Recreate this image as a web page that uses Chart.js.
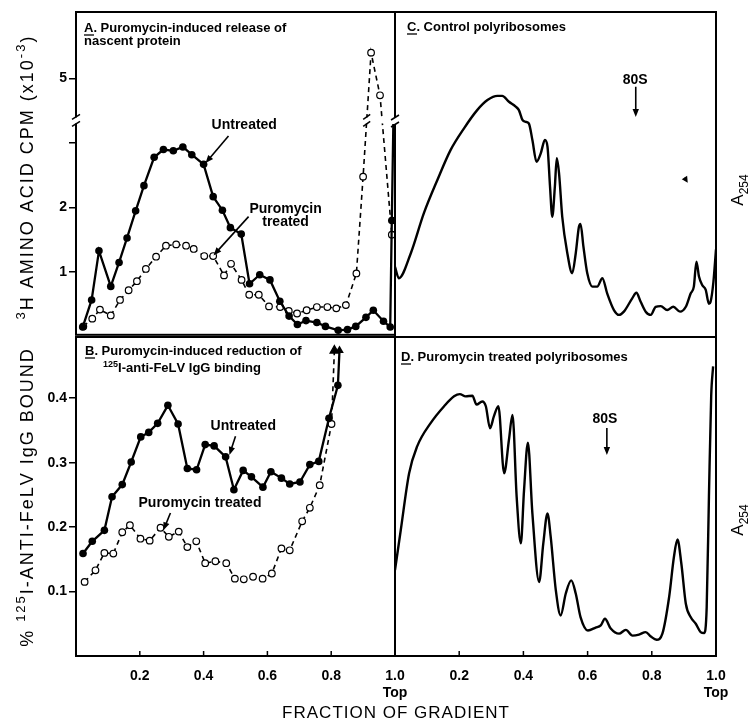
<!DOCTYPE html>
<html>
<head>
<meta charset="utf-8">
<script src="https://cdn.jsdelivr.net/npm/chart.js@4.4.0/dist/chart.umd.min.js"></script>
<style>
  body { margin: 0; background: #fff; width: 751px; height: 724px; position: relative; overflow: hidden;
         font-family: "Liberation Sans", Arial, sans-serif; }
  canvas { position: absolute; }
  #xTitle { position: absolute; left: 76px; width: 640px; top: 703px; text-align: center;
            font-size: 17px; letter-spacing: 1px; color: #000; }
</style>
</head>
<body>
<canvas id="chartA" width="410" height="340" style="left:0;top:0"></canvas>
<canvas id="chartB" width="410" height="394" style="left:0;top:330px"></canvas>
<canvas id="chartC" width="371" height="340" style="left:380px;top:0"></canvas>
<canvas id="chartD" width="371" height="394" style="left:380px;top:330px"></canvas>
<div id="xTitle">FRACTION OF GRADIENT</div>
<script>
// ---- A: 3H amino acid cpm (x10^-3) ----
var fracUntreatedA = [0.021,0.049,0.072,0.109,0.135,0.160,0.187,0.213,0.245,0.274,0.305,0.335,0.363,0.400,0.430,0.459,0.484,0.518,0.544,0.576,0.608,0.639,0.668,0.694,0.721,0.755,0.782,0.822,0.851,0.877,0.909,0.932,0.964,0.985,0.990,0.995];
var cpmUntreatedA  = [0.15,0.57,1.33,0.78,1.15,1.53,1.95,2.34,2.78,2.90,2.88,2.94,2.82,2.67,2.17,1.96,1.69,1.59,0.82,0.96,0.88,0.55,0.32,0.19,0.25,0.22,0.16,0.10,0.11,0.16,0.30,0.41,0.24,0.15,1.80,3.35];
var fracPuroA = [0.023,0.051,0.075,0.109,0.138,0.165,0.191,0.219,0.251,0.282,0.314,0.345,0.369,0.402,0.430,0.464,0.486,0.519,0.543,0.573,0.605,0.640,0.667,0.693,0.723,0.755,0.788,0.816,0.846,0.879,0.900,0.925,0.953,0.990];
var cpmPuroA  = [0.16,0.28,0.42,0.33,0.57,0.72,0.86,1.05,1.24,1.41,1.43,1.41,1.36,1.25,1.25,0.95,1.13,0.88,0.65,0.65,0.47,0.46,0.40,0.36,0.41,0.46,0.46,0.44,0.49,0.98,2.48,5.40,4.74,1.58];
var cpmTicks = [1,2,3,5];

// ---- B: % 125I-anti-FeLV IgG bound ----
var fracUntreatedB = [0.022,0.051,0.089,0.113,0.145,0.173,0.203,0.228,0.256,0.288,0.320,0.349,0.378,0.405,0.433,0.469,0.495,0.524,0.550,0.586,0.611,0.644,0.670,0.702,0.733,0.761,0.793,0.821,0.826];
var boundUntreatedB = [0.159,0.178,0.195,0.247,0.266,0.301,0.340,0.347,0.361,0.389,0.360,0.291,0.289,0.328,0.326,0.309,0.258,0.288,0.278,0.262,0.286,0.276,0.267,0.270,0.297,0.302,0.369,0.420,0.474];
var fracPuroB = [0.027,0.061,0.089,0.117,0.145,0.169,0.202,0.231,0.265,0.291,0.322,0.349,0.377,0.405,0.437,0.471,0.498,0.526,0.555,0.585,0.614,0.644,0.670,0.709,0.733,0.764,0.801,0.810];
var boundPuroB = [0.115,0.133,0.160,0.159,0.192,0.203,0.182,0.179,0.199,0.185,0.193,0.169,0.178,0.144,0.147,0.144,0.120,0.119,0.123,0.120,0.128,0.167,0.164,0.209,0.230,0.265,0.360,0.474];
var boundTicks = [0.1,0.2,0.3,0.4];

// ---- C: control polyribosomes, A254 trace ----
var fracC = [0.0,0.012,0.049,0.090,0.132,0.173,0.215,0.256,0.288,0.319,0.334,0.355,0.376,0.386,0.397,0.407,0.417,0.428,0.441,0.454,0.467,0.475,0.483,0.490,0.498,0.504,0.511,0.521,0.537,0.552,0.563,0.573,0.578,0.587,0.599,0.615,0.630,0.646,0.661,0.682,0.698,0.713,0.739,0.752,0.765,0.781,0.797,0.812,0.828,0.848,0.867,0.888,0.906,0.921,0.931,0.939,0.947,0.957,0.968,0.978,0.983,0.992,1.0];
var a254C = [0.216,0.181,0.257,0.381,0.483,0.575,0.642,0.698,0.729,0.742,0.742,0.724,0.709,0.698,0.668,0.662,0.657,0.606,0.539,0.565,0.606,0.586,0.462,0.370,0.462,0.550,0.504,0.370,0.257,0.196,0.257,0.339,0.348,0.278,0.196,0.155,0.155,0.181,0.134,0.083,0.068,0.078,0.119,0.136,0.109,0.078,0.068,0.093,0.095,0.083,0.093,0.078,0.093,0.134,0.155,0.232,0.186,0.160,0.145,0.102,0.108,0.170,0.270];

// ---- D: puromycin treated polyribosomes, A254 trace ----
var fracD = [0.0,0.018,0.044,0.069,0.111,0.153,0.184,0.202,0.220,0.241,0.254,0.272,0.283,0.296,0.308,0.322,0.340,0.355,0.366,0.379,0.392,0.402,0.414,0.428,0.449,0.462,0.475,0.485,0.501,0.516,0.532,0.549,0.563,0.578,0.601,0.625,0.641,0.654,0.672,0.698,0.719,0.740,0.760,0.781,0.797,0.815,0.833,0.854,0.869,0.880,0.892,0.906,0.921,0.937,0.952,0.963,0.971,0.978,0.985,0.991];
var a254D = [0.269,0.395,0.573,0.657,0.730,0.783,0.814,0.821,0.814,0.816,0.788,0.798,0.783,0.714,0.751,0.783,0.573,0.678,0.756,0.499,0.353,0.520,0.669,0.447,0.232,0.353,0.447,0.374,0.206,0.127,0.196,0.237,0.196,0.122,0.080,0.089,0.096,0.117,0.086,0.070,0.082,0.064,0.067,0.075,0.061,0.051,0.070,0.185,0.311,0.365,0.290,0.164,0.122,0.101,0.075,0.072,0.153,0.499,0.814,0.908];

var xTicks = [0.2,0.4,0.6,0.8,1.0];

// axis break in panel A: values above BRK_LO + BRK_GAP are shifted down by BRK_GAP
var BRK_LO = 3.35, BRK_GAP = 1.0;
function brk(v) { return v > BRK_LO + BRK_GAP ? v - BRK_GAP : v; }
function unbrk(v) { return v > BRK_LO ? v + BRK_GAP : v; }

function pts(xs, ys, f) { return xs.map(function (x, i) { return { x: x, y: f ? f(ys[i]) : ys[i] }; }); }

var FONT = '"Liberation Sans", Arial, sans-serif';

// draw text made of parts (sup / sub / underline), optionally rotated, with letter spacing
function richText(ctx, parts, x, y, size, opts) {
  opts = opts || {};
  var weight = opts.weight || 'normal', ls = opts.ls || 0;
  function fnt(p) { return weight + ' ' + ((p.sup || p.sub) ? Math.round(size * 0.72) : size) + 'px ' + FONT; }
  var total = 0;
  parts.forEach(function (p) {
    ctx.font = fnt(p);
    for (var i = 0; i < p.t.length; i++) total += ctx.measureText(p.t[i]).width + ls;
  });
  ctx.save();
  ctx.translate(x, y);
  if (opts.rot) ctx.rotate(opts.rot);
  ctx.fillStyle = '#000';
  ctx.strokeStyle = '#000';
  ctx.textBaseline = 'alphabetic';
  ctx.textAlign = 'left';
  var cx = opts.align === 'center' ? -total / 2 : 0;
  parts.forEach(function (p) {
    ctx.font = fnt(p);
    var dy = p.sup ? -size * 0.42 : (p.sub ? size * 0.32 : 0);
    var start = cx;
    for (var i = 0; i < p.t.length; i++) {
      ctx.fillText(p.t[i], cx, dy);
      cx += ctx.measureText(p.t[i]).width + ls;
    }
    if (p.u) {
      ctx.lineWidth = 1.3;
      ctx.beginPath(); ctx.moveTo(start, dy + 3); ctx.lineTo(cx - 3, dy + 3); ctx.stroke();
    }
  });
  ctx.restore();
}

function arrow(ctx, x1, y1, x2, y2, head) {
  head = head || 8;
  var ang = Math.atan2(y2 - y1, x2 - x1);
  ctx.save();
  ctx.strokeStyle = '#000'; ctx.fillStyle = '#000'; ctx.lineWidth = 1.6;
  ctx.beginPath(); ctx.moveTo(x1, y1);
  ctx.lineTo(x2 - Math.cos(ang) * head * 0.8, y2 - Math.sin(ang) * head * 0.8); ctx.stroke();
  ctx.beginPath();
  ctx.moveTo(x2, y2);
  ctx.lineTo(x2 - head * Math.cos(ang) + 3.2 * Math.sin(ang), y2 - head * Math.sin(ang) - 3.2 * Math.cos(ang));
  ctx.lineTo(x2 - head * Math.cos(ang) - 3.2 * Math.sin(ang), y2 - head * Math.sin(ang) + 3.2 * Math.cos(ang));
  ctx.closePath(); ctx.fill();
  ctx.restore();
}

// frame around plot area and inward x ticks
var framePlugin = {
  id: 'frame',
  afterDatasetsDraw: function (chart) {
    var ctx = chart.ctx, a = chart.chartArea, sx = chart.scales.x;
    ctx.save();
    ctx.strokeStyle = '#000'; ctx.lineWidth = 2;
    ctx.strokeRect(a.left, a.top, a.right - a.left, a.bottom - a.top);
    if (sx.options.display) {
      ctx.lineWidth = 1.5;
      sx.ticks.forEach(function (t) {
        var px = sx.getPixelForValue(t.value);
        ctx.beginPath(); ctx.moveTo(px, a.bottom); ctx.lineTo(px, a.bottom - 5); ctx.stroke();
      });
    }
    ctx.restore();
  }
};

function breakMarks(ctx, x, yc, w) {
  w = w || 4;
  ctx.save();
  ctx.strokeStyle = '#000'; ctx.lineWidth = 1.5;
  ctx.beginPath(); ctx.moveTo(x - w, yc - 1); ctx.lineTo(x + w, yc - 6); ctx.stroke();
  ctx.beginPath(); ctx.moveTo(x - w, yc + 6); ctx.lineTo(x + w, yc + 1); ctx.stroke();
  ctx.restore();
}

function fixedTicks(values, map) {
  return function (scale) { scale.ticks = values.map(function (v) { return { value: map ? map(v) : v }; }); };
}

function xAxis(show) {
  return {
    type: 'linear', min: 0, max: 1, display: show,
    afterBuildTicks: fixedTicks(xTicks),
    afterFit: function (s) { if (show) s.height = 60; s.paddingLeft = 0; s.paddingRight = 0; },
    grid: { display: false }, border: { display: false },
    ticks: {
      autoSkip: false, maxRotation: 0, padding: 4, color: '#000',
      font: { family: FONT, size: 14, weight: 'bold' },
      callback: function (v) { return v === 1 ? ['1.0', 'Top'] : v.toFixed(1); }
    }
  };
}

function yAxis(min, max, tickVals, map, label) {
  return {
    type: 'linear', min: min, max: max,
    afterBuildTicks: fixedTicks(tickVals, map),
    afterFit: function (s) { s.width = 76; s.paddingTop = 0; s.paddingBottom = 0; },
    grid: { display: true, drawOnChartArea: false, drawTicks: true, tickLength: 7, color: '#000', lineWidth: 1.5 },
    border: { display: false },
    ticks: { padding: 2, color: '#000', font: { family: FONT, size: 14, weight: 'bold' }, callback: label }
  };
}

function noAxis(min, max) { return { type: 'linear', min: min, max: max, display: false }; }

function filledSet(data, n) {
  return { data: data, borderColor: '#000', borderWidth: 2.3, backgroundColor: '#000',
           pointRadius: data.map(function (d, i) { return i === n ? 0 : 3.8; }), pointBorderWidth: 0, tension: 0 };
}
function openSet(data) {
  return { data: data, borderColor: '#000', borderWidth: 1.6, borderDash: [5, 4], backgroundColor: '#fff',
           pointRadius: 3.3, pointBorderWidth: 1.2, pointBorderColor: '#000', tension: 0 };
}
function traceSet(data) {
  return { data: data, borderColor: '#000', borderWidth: 2.4, pointRadius: 0, tension: 0.35, cubicInterpolationMode: 'monotone' };
}

function baseOptions(pad, scales) {
  return {
    responsive: false, animation: false,
    layout: { padding: pad },
    plugins: { legend: { display: false }, tooltip: { enabled: false } },
    scales: scales
  };
}

// ---------- Panel A ----------
var decorA = {
  id: 'decorA',
  afterDraw: function (chart) {
    var ctx = chart.ctx, a = chart.chartArea, x = chart.scales.x, y = chart.scales.y;
    var by = y.getPixelForValue(BRK_LO);
    ctx.save(); ctx.fillStyle = '#fff';
    ctx.fillRect(a.left - 3, by - 3, a.right - a.left + 6, 6);
    ctx.restore();
    breakMarks(ctx, a.left, by);
    // break marks where a data line crosses the gap
    chart.data.datasets.forEach(function (ds, di) {
      var pe = chart.getDatasetMeta(di).data;
      for (var i = 1; i < pe.length; i++) {
        var p0 = pe[i - 1], p1 = pe[i];
        if ((p0.y - by) * (p1.y - by) < 0 && p1.x < a.right - 4) {
          var t = (by - p0.y) / (p1.y - p0.y);
          breakMarks(ctx, p0.x + t * (p1.x - p0.x), by, 3.5);
        }
      }
    });
    richText(ctx, [{ t: 'A.', u: true }, { t: ' Puromycin-induced release of' }], a.left + 8, a.top + 20, 13, { weight: 'bold' });
    richText(ctx, [{ t: 'nascent protein' }], a.left + 8, a.top + 33, 13, { weight: 'bold' });
    richText(ctx, [{ t: 'Untreated' }], x.getPixelForValue(0.425), y.getPixelForValue(3.22), 14, { weight: 'bold' });
    arrow(ctx, x.getPixelForValue(0.478), y.getPixelForValue(3.11), x.getPixelForValue(0.406), y.getPixelForValue(2.69));
    richText(ctx, [{ t: 'Puromycin' }], x.getPixelForValue(0.657), y.getPixelForValue(1.91), 14, { weight: 'bold', align: 'center' });
    richText(ctx, [{ t: 'treated' }], x.getPixelForValue(0.657), y.getPixelForValue(1.72), 14, { weight: 'bold', align: 'center' });
    arrow(ctx, x.getPixelForValue(0.541), y.getPixelForValue(1.86), x.getPixelForValue(0.431), y.getPixelForValue(1.26));
    richText(ctx, [{ t: '3', sup: true }, { t: 'H AMINO ACID CPM (x10' }, { t: '-3', sup: true }, { t: ')' }],
             33, 177, 18, { rot: -Math.PI / 2, align: 'center', ls: 2 });
  }
};

new Chart('chartA', {
  type: 'line',
  data: { datasets: [filledSet(pts(fracUntreatedA, cpmUntreatedA, brk), cpmUntreatedA.length - 1),
                     openSet(pts(fracPuroA, cpmPuroA, brk))] },
  options: baseOptions({ left: 0, top: 12, right: 15, bottom: 3 }, {
    x: xAxis(false),
    y: yAxis(0.03, 5.03, cpmTicks, brk, function (v) {
      var actual = Math.round(unbrk(v));
      return actual === 3 ? '' : String(actual);
    })
  }),
  plugins: [framePlugin, decorA]
});

// ---------- Panel B ----------
var decorB = {
  id: 'decorB',
  afterDraw: function (chart) {
    var ctx = chart.ctx, a = chart.chartArea, x = chart.scales.x, y = chart.scales.y;
    richText(ctx, [{ t: 'B.', u: true }, { t: ' Puromycin-induced reduction of' }], a.left + 9, a.top + 18, 13, { weight: 'bold' });
    richText(ctx, [{ t: '125', sup: true }, { t: 'I-anti-FeLV IgG binding' }], a.left + 27, a.top + 35, 13, { weight: 'bold' });
    richText(ctx, [{ t: 'Untreated' }], x.getPixelForValue(0.422), y.getPixelForValue(0.350), 14, { weight: 'bold' });
    arrow(ctx, x.getPixelForValue(0.500), y.getPixelForValue(0.341), x.getPixelForValue(0.481), y.getPixelForValue(0.312));
    richText(ctx, [{ t: 'Puromycin treated' }], x.getPixelForValue(0.196), y.getPixelForValue(0.231), 14, { weight: 'bold' });
    arrow(ctx, x.getPixelForValue(0.296), y.getPixelForValue(0.222), x.getPixelForValue(0.274), y.getPixelForValue(0.195));
    richText(ctx, [{ t: '% ' }, { t: '125', sup: true }, { t: 'I-ANTI-FeLV IgG BOUND' }],
             33, 167, 18, { rot: -Math.PI / 2, align: 'center', ls: 2 });
  }
};

var setBU = filledSet(pts(fracUntreatedB, boundUntreatedB), -1);
var setBP = openSet(pts(fracPuroB, boundPuroB));
setBU.pointStyle = boundUntreatedB.map(function (v, i) { return i === boundUntreatedB.length - 1 ? 'triangle' : 'circle'; });
setBU.pointRadius = boundUntreatedB.map(function (v, i) { return i === boundUntreatedB.length - 1 ? 5 : 3.8; });
setBP.pointStyle = boundPuroB.map(function (v, i) { return i === boundPuroB.length - 1 ? 'triangle' : 'circle'; });
setBP.pointRadius = boundPuroB.map(function (v, i) { return i === boundPuroB.length - 1 ? 5 : 3.3; });
setBP.pointBackgroundColor = boundPuroB.map(function (v, i) { return i === boundPuroB.length - 1 ? '#000' : '#fff'; });

new Chart('chartB', {
  type: 'line',
  data: { datasets: [setBU, setBP] },
  options: baseOptions({ left: 0, top: 7, right: 15, bottom: 8 }, {
    x: xAxis(true),
    y: yAxis(0, 0.495, boundTicks, null, function (v) { return v.toFixed(1); })
  }),
  plugins: [framePlugin, decorB]
});

// ---------- Panel C ----------
var decorC = {
  id: 'decorC',
  afterDraw: function (chart) {
    var ctx = chart.ctx, a = chart.chartArea, x = chart.scales.x, y = chart.scales.y;
    var by = 121; // same height as the break in panel A (both canvases start at page top)
    ctx.save(); ctx.fillStyle = '#fff'; ctx.fillRect(a.left - 4, by - 3, 7, 6); ctx.restore();
    breakMarks(ctx, a.left, by);
    richText(ctx, [{ t: 'C.', u: true }, { t: ' Control polyribosomes' }], a.left + 12, a.top + 19, 13, { weight: 'bold' });
    richText(ctx, [{ t: '80S' }], x.getPixelForValue(0.748), y.getPixelForValue(0.78), 14, { weight: 'bold', align: 'center' });
    arrow(ctx, x.getPixelForValue(0.75), y.getPixelForValue(0.77), x.getPixelForValue(0.75), y.getPixelForValue(0.677));
    arrow(ctx, x.getPixelForValue(0.902), y.getPixelForValue(0.49), x.getPixelForValue(0.912), y.getPixelForValue(0.475), 6);
    richText(ctx, [{ t: 'A' }, { t: '254', sub: true }], 363, 190, 17, { rot: -Math.PI / 2, align: 'center' });
  }
};

new Chart('chartC', {
  type: 'line',
  data: { datasets: [traceSet(pts(fracC, a254C))] },
  options: baseOptions({ left: 15, top: 12, right: 35, bottom: 3 }, { x: xAxis(false), y: noAxis(0, 1) }),
  plugins: [framePlugin, decorC]
});

// ---------- Panel D ----------
var decorD = {
  id: 'decorD',
  afterDraw: function (chart) {
    var ctx = chart.ctx, a = chart.chartArea, x = chart.scales.x, y = chart.scales.y;
    richText(ctx, [{ t: 'D.', u: true }, { t: ' Puromycin treated polyribosomes' }], a.left + 6, a.top + 24, 13, { weight: 'bold' });
    richText(ctx, [{ t: '80S' }], x.getPixelForValue(0.654), y.getPixelForValue(0.731), 14, { weight: 'bold', align: 'center' });
    arrow(ctx, x.getPixelForValue(0.66), y.getPixelForValue(0.715), x.getPixelForValue(0.66), y.getPixelForValue(0.63));
    richText(ctx, [{ t: 'A' }, { t: '254', sub: true }], 363, 190, 17, { rot: -Math.PI / 2, align: 'center' });
  }
};

new Chart('chartD', {
  type: 'line',
  data: { datasets: [traceSet(pts(fracD, a254D))] },
  options: baseOptions({ left: 15, top: 7, right: 35, bottom: 8 }, { x: xAxis(true), y: noAxis(0, 1) }),
  plugins: [framePlugin, decorD]
});
</script>
</body>
</html>
